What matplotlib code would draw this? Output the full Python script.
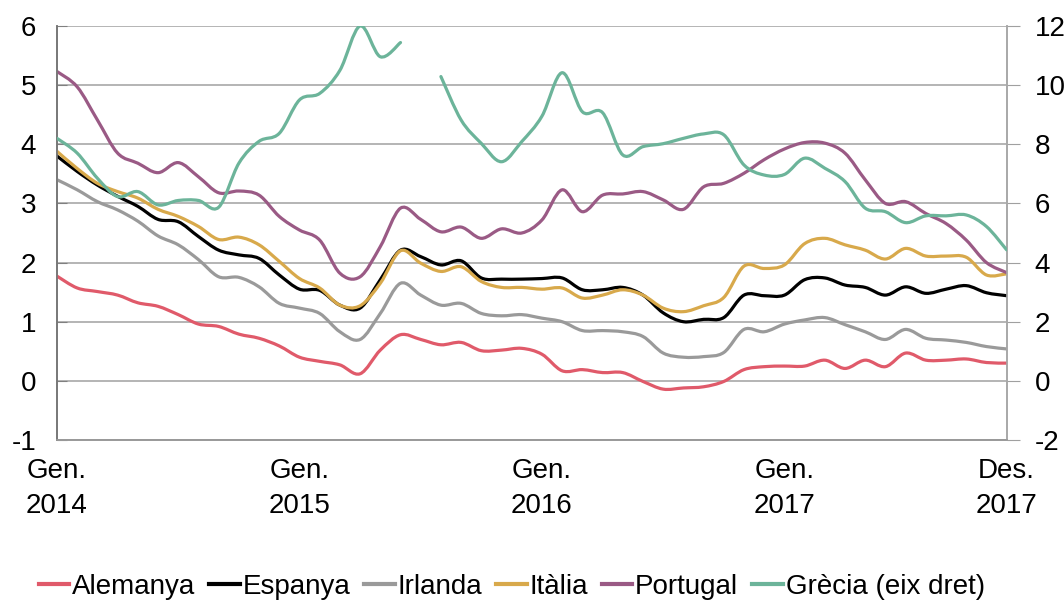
import numpy as np
import matplotlib
matplotlib.use("Agg")
import matplotlib.pyplot as plt
from matplotlib.path import Path
from matplotlib.patches import PathPatch
from matplotlib.lines import Line2D

plt.rcParams['font.family'] = ['Liberation Sans', 'DejaVu Sans']
plt.rcParams['axes.unicode_minus'] = False

months = np.arange(48)  # Gen. 2014 .. Des. 2017
tick_pos = [0, 12, 24, 36, 47]
tick_labels = ["Gen.\n2014", "Gen.\n2015", "Gen.\n2016", "Gen.\n2017", "Des.\n2017"]

alemanya = [1.77, 1.57, 1.51, 1.45, 1.32, 1.26, 1.12, 0.96, 0.92, 0.79, 0.72, 0.59,
            0.40, 0.33, 0.27, 0.12, 0.52, 0.78, 0.70, 0.61, 0.65, 0.51, 0.52, 0.55,
            0.45, 0.17, 0.19, 0.14, 0.14, -0.01, -0.14, -0.12, -0.10, -0.01, 0.19, 0.24,
            0.25, 0.25, 0.35, 0.21, 0.35, 0.24, 0.47, 0.35, 0.35, 0.37, 0.31, 0.30]
espanya = [3.80, 3.54, 3.31, 3.12, 2.95, 2.73, 2.69, 2.44, 2.21, 2.13, 2.07, 1.79,
           1.55, 1.53, 1.28, 1.23, 1.71, 2.21, 2.10, 1.96, 2.03, 1.74, 1.72, 1.72,
           1.73, 1.74, 1.54, 1.54, 1.58, 1.45, 1.15, 1.00, 1.04, 1.07, 1.45, 1.44,
           1.45, 1.71, 1.74, 1.62, 1.58, 1.45, 1.59, 1.48, 1.55, 1.61, 1.49, 1.44]
irlanda = [3.40, 3.23, 3.03, 2.89, 2.70, 2.45, 2.30, 2.05, 1.76, 1.75, 1.59, 1.31,
           1.23, 1.14, 0.83, 0.70, 1.14, 1.65, 1.45, 1.28, 1.31, 1.14, 1.10, 1.12,
           1.06, 1.00, 0.85, 0.85, 0.83, 0.75, 0.47, 0.40, 0.41, 0.48, 0.87, 0.83,
           0.96, 1.03, 1.07, 0.95, 0.83, 0.70, 0.87, 0.72, 0.69, 0.65, 0.58, 0.54]
italia = [3.88, 3.59, 3.34, 3.20, 3.09, 2.90, 2.78, 2.61, 2.39, 2.43, 2.30, 2.02,
          1.73, 1.57, 1.28, 1.27, 1.65, 2.20, 1.99, 1.85, 1.93, 1.68, 1.58, 1.58,
          1.55, 1.57, 1.40, 1.45, 1.54, 1.45, 1.23, 1.17, 1.27, 1.41, 1.94, 1.90,
          1.96, 2.32, 2.41, 2.30, 2.21, 2.06, 2.24, 2.11, 2.11, 2.09, 1.79, 1.81]
portugal = [5.23, 4.97, 4.41, 3.85, 3.68, 3.52, 3.69, 3.45, 3.18, 3.21, 3.14, 2.78,
            2.55, 2.38, 1.82, 1.76, 2.27, 2.92, 2.73, 2.52, 2.60, 2.41, 2.57, 2.50,
            2.72, 3.23, 2.86, 3.14, 3.16, 3.20, 3.06, 2.90, 3.28, 3.34, 3.51, 3.74,
            3.92, 4.03, 4.02, 3.85, 3.40, 3.00, 3.03, 2.83, 2.66, 2.38, 2.00, 1.83]
grecia = [8.2, 7.7, 6.85, 6.23, 6.4, 5.95, 6.1, 6.1, 5.87, 7.36, 8.1, 8.37,
          9.5, 9.72, 10.5, 12.0, 10.96, 11.44, np.nan, 10.29, 8.82, 8.03, 7.41, 8.09,
          8.95, 10.42, 9.1, 9.07, 7.64, 7.92, 8.02, 8.2, 8.35, 8.32, 7.3, 6.96,
          6.98, 7.53, 7.19, 6.74, 5.84, 5.72, 5.35, 5.58, 5.58, 5.61, 5.22, 4.43]

names = ["Alemanya", "Espanya", "Irlanda", "Itàlia", "Portugal", "Grècia (eix dret)"]
colors = ["#E05A6A", "#000000", "#9A9A9A", "#D8A94B", "#9A5A85", "#6CB49A"]


def smooth_path(x, y):
    """Excel-style smoothed line: cubic Bezier through data points."""
    x = np.asarray(x, float)
    y = np.asarray(y, float)
    verts, codes = [], []
    n = len(x)
    for i in range(n - 1):
        p0 = (x[max(i - 1, 0)], y[max(i - 1, 0)])
        p1 = (x[i], y[i])
        p2 = (x[i + 1], y[i + 1])
        p3 = (x[min(i + 2, n - 1)], y[min(i + 2, n - 1)])
        c1 = (p1[0] + (p2[0] - p0[0]) / 6, p1[1] + (p2[1] - p0[1]) / 6)
        c2 = (p2[0] - (p3[0] - p1[0]) / 6, p2[1] - (p3[1] - p1[1]) / 6)
        if i == 0:
            verts.append(p1)
            codes.append(Path.MOVETO)
        verts += [c1, c2, p2]
        codes += [Path.CURVE4] * 3
    return Path(verts, codes)


def draw_series(ax, x, y, color):
    y = np.asarray(y, float)
    x = np.asarray(x, float)
    ok = ~np.isnan(y)
    idx = np.where(ok)[0]
    segs = np.split(idx, np.where(np.diff(idx) > 1)[0] + 1)
    for s in segs:
        if len(s) < 2:
            continue
        p = smooth_path(x[s], y[s])
        ax.add_patch(PathPatch(p, facecolor='none', edgecolor=color, lw=2.3,
                               capstyle='round', joinstyle='round', zorder=3))


fig = plt.figure(figsize=(10.64, 6.03), dpi=100)
ax = fig.add_axes([0.0536, 0.2703, 0.8925, 0.6866])
ax2 = ax.twinx()

left_series = [alemanya, espanya, irlanda, italia, portugal]
for s, c in zip(left_series, colors[:5]):
    draw_series(ax, months, s, c)
draw_series(ax2, months, grecia, colors[5])

ax.set_xlim(0, 47)
ax.set_ylim(-1, 6)
ax2.set_ylim(-2, 12)
ax.set_yticks(range(-1, 7))
ax2.set_yticks(range(-2, 13, 2))
ax.set_xticks(tick_pos)
ax.set_xticklabels(tick_labels, fontsize=20, linespacing=1.45)
ax.tick_params(axis='x', length=0, pad=13)
ax.tick_params(axis='y', labelsize=20, direction='in', length=7, color='#808080', pad=15)
ax2.tick_params(axis='y', labelsize=20, direction='out', length=9, color='#A0A0A0', pad=11)

ax.grid(axis='y', color='#A8A8A8', lw=1.2)
ax.set_axisbelow(True)
for a in (ax, ax2):
    a.spines['top'].set_visible(False)
    a.spines['bottom'].set_color('#999999')
    a.spines['left'].set_color('#777777')
    a.spines['right'].set_color('#A8A8A8')
    for sp in a.spines.values():
        sp.set_linewidth(1.2)

handles = [Line2D([0], [0], color=c, lw=3) for c in colors]
fig.legend(handles, names, loc='center', bbox_to_anchor=(0.481, 0.027), ncol=6,
           frameon=False, fontsize=20, handlelength=1.1, handletextpad=0.1,
           columnspacing=0.5)

fig.savefig("out.png", dpi=100)
